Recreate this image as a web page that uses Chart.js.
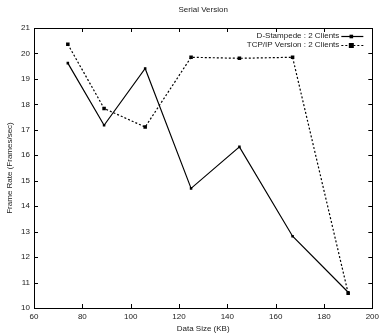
<!DOCTYPE html>
<html><head><meta charset="utf-8">
<script src="https://cdn.jsdelivr.net/npm/chart.js@4/dist/chart.umd.min.js"></script>
<style>html,body{margin:0;padding:0;background:#fff}#wrap{width:383px;height:336px}</style>
</head><body><div id="wrap"><canvas id="c" width="383" height="336"></canvas></div>
<script>
const chartTitle = "Serial Version";
const xTitle = "Data Size (KB)";
const yTitle = "Frame Rate (Frames/sec)";
const dataSizes = [74, 89, 106, 125, 145, 167, 190];
const dStampede = [19.62, 17.18, 19.41, 14.7, 16.33, 12.82, 10.62];
const tcpip = [20.36, 17.84, 17.11, 19.85, 19.81, 19.85, 10.58];
const seriesLabels = ["D-Stampede : 2 Clients", "TCP/IP Version : 2 Clients"];
const xTicks = [60, 80, 100, 120, 140, 160, 180, 200];
const yTicks = [10, 11, 12, 13, 14, 15, 16, 17, 18, 19, 20, 21];

const FONT = "'Liberation Sans', Arial, sans-serif";

const framePlugin = {
  id: 'frame',
  afterDraw(chart) {
    const ctx = chart.ctx, a = chart.chartArea;
    const xs = chart.scales.x, ys = chart.scales.y;
    ctx.save();
    ctx.strokeStyle = '#000';
    ctx.lineWidth = 1;
    ctx.strokeRect(Math.round(a.left) + 0.5, Math.round(a.top) + 0.5, Math.round(a.right - a.left), Math.round(a.bottom - a.top));
    const L = 4;
    ctx.beginPath();
    xTicks.forEach(v => {
      const px = Math.round(xs.getPixelForValue(v)) + 0.5;
      ctx.moveTo(px, a.bottom); ctx.lineTo(px, a.bottom - L);
      ctx.moveTo(px, a.top); ctx.lineTo(px, a.top + L);
    });
    yTicks.forEach(v => {
      const py = Math.round(ys.getPixelForValue(v)) + 0.5;
      ctx.moveTo(a.left, py); ctx.lineTo(a.left + L, py);
      ctx.moveTo(a.right, py); ctx.lineTo(a.right - L, py);
    });
    ctx.stroke();
    // title
    ctx.fillStyle = '#222';
    ctx.font = '8px ' + FONT;
    ctx.textAlign = 'center';
    ctx.textBaseline = 'middle';
    ctx.fillText(chartTitle, (a.left + a.right) / 2, 10);
    // legend
    chart.data.datasets.forEach((ds, i) => {
      const y = a.top + 8 + i * 9;
      ctx.textAlign = 'right';
      ctx.fillStyle = '#222';
      ctx.fillText(ds.label, a.right - 33, y);
      ctx.beginPath();
      ctx.lineWidth = 1.2;
      ctx.setLineDash(ds.borderDash || []);
      ctx.strokeStyle = '#000';
      ctx.moveTo(a.right - 31, y + 0.5); ctx.lineTo(a.right - 9, y + 0.5);
      ctx.stroke();
      ctx.setLineDash([]);
      const r = ds.pointRadius;
      ctx.fillStyle = '#000';
      ctx.fillRect(a.right - 21 - r, y + 0.5 - r, 2 * r, 2 * r);
    });
    ctx.restore();
  }
};

new Chart(document.getElementById('c'), {
  type: 'line',
  data: {
    datasets: [
      {
        label: seriesLabels[0],
        data: dataSizes.map((x, i) => ({x, y: dStampede[i]})),
        borderColor: '#000', backgroundColor: '#000', borderWidth: 1.2,
        pointStyle: 'rect', pointRadius: 1.8, pointBorderWidth: 0,
        fill: false, tension: 0
      },
      {
        label: seriesLabels[1],
        data: dataSizes.map((x, i) => ({x, y: tcpip[i]})),
        borderColor: '#000', backgroundColor: '#000', borderWidth: 1.2, borderDash: [2, 2],
        pointStyle: 'rect', pointRadius: 2.5, pointBorderWidth: 0,
        fill: false, tension: 0
      }
    ]
  },
  options: {
    responsive: false, animation: false, devicePixelRatio: 1,
    layout: { padding: { top: 28, right: 7, bottom: 0, left: 0 } },
    plugins: { legend: { display: false }, title: { display: false }, tooltip: { enabled: false } },
    scales: {
      x: {
        type: 'linear', min: 60, max: 200,
        afterBuildTicks: s => { s.ticks = xTicks.map(v => ({value: v})); },
        afterFit: s => { s.height = 28; },
        grid: { display: false, drawTicks: false }, border: { display: false },
        ticks: { font: { size: 8, family: FONT }, color: '#222', padding: 4, maxRotation: 0 },
        title: { display: true, text: xTitle, font: { size: 8, family: FONT }, color: '#222', padding: { top: 0, bottom: 2 } }
      },
      y: {
        type: 'linear', min: 10, max: 21,
        afterBuildTicks: s => { s.ticks = yTicks.map(v => ({value: v})); },
        afterFit: s => { s.width = 34; },
        grid: { display: false, drawTicks: false }, border: { display: false },
        ticks: { font: { size: 8, family: FONT }, color: '#222', padding: 4 },
        title: { display: true, text: yTitle, font: { size: 8, family: FONT }, color: '#222', padding: { top: 5, bottom: 0 } }
      }
    }
  },
  plugins: [framePlugin]
});
</script></body></html>
